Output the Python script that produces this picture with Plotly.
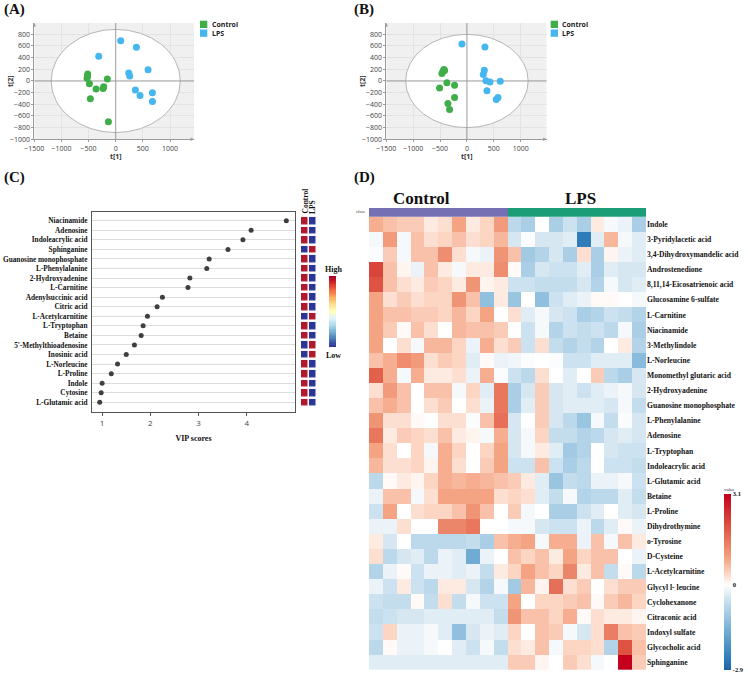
import plotly.graph_objects as go
import numpy as np

W, H = 748, 682
def fx(p): return p / W
def fy(p): return 1 - p / H

# ---------------- Panel A / B data (PCA score plots) ----------------
a_ctrl_x = [-516, -528, -485, -362, -221, -233, -154, -467, -135, -520]
a_ctrl_y = [120, 46, -46, -137, -97, -131, 34, -303, -697, 80]
a_lps_x = [92, 381, -313, 596, 240, 258, 362, 448, 676, 676]
a_lps_y = [691, 577, 423, 194, 137, 86, -154, -251, -200, -354]
a_ellipse = (1190, 885)

b_ctrl_x = [-428, -447, -465, -372, -230, -509, -230, -354, -323, -415]
b_ctrl_y = [197, 162, 127, -29, -75, -121, -283, -387, -491, 179]
b_lps_x = [-93, 335, 323, 304, 354, 428, 620, 372, 577, 546]
b_lps_y = [636, 584, 185, 110, 6, -17, -6, -168, -283, -318]
b_ellipse = (1140, 800)

pca_xticks = [-1500, -1000, -500, 0, 500, 1000]
pca_yticks = [-1000, -800, -600, -400, -200, 0, 200, 400, 600, 800]

# ---------------- Panel C data (VIP scores) ----------------
vip_names = ["Niacinamide", "Adenosine", "Indoleacrylic acid", "Sphinganine",
             "Guanosine monophosphate", "L-Phenylalanine", "2-Hydroxyadenine",
             "L-Carnitine", "Adenylsuccinic acid", "Citric acid", "L-Acetylcarnitine",
             "L-Tryptophan", "Betaine", "5'-Methylthioadenosine", "Inosinic acid",
             "L-Norleucine", "L-Proline", "Indole", "Cytosine", "L-Glutamic acid"]
vip_scores = [4.82, 4.09, 3.92, 3.61, 3.22, 3.17, 2.82, 2.78, 2.25, 2.14,
              1.94, 1.85, 1.81, 1.67, 1.50, 1.32, 1.19, 1.00, 0.98, 0.95]
# 1 = high, 0 = low
vip_control_level = [1, 1, 1, 0, 1, 1, 1, 1, 1, 1, 0, 1, 1, 0, 0, 1, 1, 1, 1, 1]
vip_lps_level = [0, 0, 0, 1, 0, 0, 0, 0, 0, 0, 1, 0, 0, 1, 1, 0, 0, 0, 0, 0]
vip_xticks = [1, 2, 3, 4]

# ---------------- Panel D data (heatmap) ----------------
hm_rows = ["Indole", "3-Pyridylacetic acid", "3,4-Dihydroxymandelic acid", "Androstenedione",
           "8,11,14-Eicosatrienoic acid", "Glucosamine 6-sulfate", "L-Carnitine", "Niacinamide",
           "3-Methylindole", "L-Norleucine", "Monomethyl glutaric acid", "2-Hydroxyadenine",
           "Guanosine monophosphate", "L-Phenylalanine", "Adenosine", "L-Tryptophan",
           "Indoleacrylic acid", "L-Glutamic acid", "Betaine", "L-Proline", "Dihydrothymine",
           "o-Tyrosine", "D-Cysteine", "L-Acetylcarnitine", "Glycyl l- leucine", "Cyclohexanone",
           "Citraconic acid", "Indoxyl sulfate", "Glycocholic acid", "Sphinganine"]
hm_samples = ["C1", "C2", "C3", "C4", "C5", "C6", "C7", "C8", "C9", "C10",
              "L1", "L2", "L3", "L4", "L5", "L6", "L7", "L8", "L9", "L10"]
hm_class = [0, 0, 0, 0, 0, 0, 0, 0, 0, 0, 1, 1, 1, 1, 1, 1, 1, 1, 1, 1]
hm_values = [
    [0.8, 0.6, 0.5, 0.5, 0.2, 0.3, 0.9, 0.2, 0.4, 1.0, -0.7, -0.9, 0.0, -0.9, -0.5, -0.9, 0.2, -0.1, -0.2, -0.9],
    [-0.1, 1.0, -0.1, 0.6, 0.3, 0.4, 0.6, 0.3, 0.4, 0.7, -0.4, -0.05, -0.4, -0.4, -0.3, -2.5, -0.3, 0.7, -0.1, -0.3],
    [-0.05, 0.5, -0.1, 0.6, 0.6, 1.2, 0.3, -0.1, -0.2, 1.1, 0.6, -1.0, -0.8, -0.4, -0.9, 0.3, -0.9, 0.1, -0.2, -0.3],
    [2.2, 0.6, 0.1, -0.2, 0.6, 0.2, -0.1, 0.2, 0.2, 1.2, 0.05, -0.9, -0.4, -0.5, -0.5, -0.3, -0.9, -0.3, -0.4, -0.4],
    [2.0, 0.6, 0.3, 0.2, 0.5, 0.4, 0.2, 1.1, 0.1, 0.2, -0.5, -0.5, -0.6, -0.6, -0.6, -0.4, -0.8, -0.1, -0.4, -0.3],
    [0.9, 0.3, 0.5, 0.3, 0.4, 0.4, 1.1, 0.6, -1.2, 0.2, -1.1, 0.0, -1.2, -0.5, -0.3, -0.2, 0.05, 0.05, 0.0, -0.1],
    [0.9, 0.6, 0.6, 0.5, 0.5, 0.4, 0.7, 0.4, 0.9, 0.0, 0.3, -0.3, -0.1, -0.4, -0.5, -0.9, -0.8, -0.5, -0.6, -0.8],
    [0.9, 0.5, 0.05, 0.6, 0.3, 0.0, 0.7, 0.6, 0.6, 0.5, 0.0, -0.5, -0.1, -0.8, -0.5, -0.6, -0.5, -0.7, -0.1, -0.9],
    [0.9, 0.0, 0.3, -0.1, 0.7, 0.7, 0.4, -0.2, 0.8, 0.3, 0.5, -0.5, 0.3, -0.6, -0.8, -0.6, -0.8, 0.0, 0.2, -0.8],
    [0.6, 0.8, 1.2, 1.0, 0.3, 0.5, 0.4, -0.3, 0.05, -0.2, -0.15, -0.05, 0.0, -0.05, -0.5, -0.5, -0.3, -0.3, -0.3, -1.3],
    [1.8, 0.8, -0.1, 0.8, 0.2, 0.2, 0.3, -0.2, 0.8, -0.05, -0.5, -0.7, 0.3, 0.0, -0.3, 0.0, 0.5, -0.7, -0.9, -0.4],
    [0.3, 1.0, 0.6, 0.0, 0.6, 0.6, -0.1, 0.4, -0.3, 1.5, -0.9, -0.4, 0.5, -0.4, -0.3, -0.5, -0.3, -0.2, -0.1, -0.4],
    [0.6, 0.8, 0.6, 0.0, 0.3, 0.5, 0.0, 0.3, -0.2, 1.5, -0.9, -0.3, 0.5, -0.4, -0.3, -0.3, -0.3, -0.4, -0.1, -0.6],
    [1.1, 0.3, 0.3, 0.05, 0.0, 0.3, 0.3, -0.05, 0.6, 1.6, -0.4, 0.0, 0.5, -0.4, -0.7, -1.1, -0.1, -0.6, -0.05, -0.4],
    [1.5, 0.2, 0.5, 0.4, 0.3, 0.6, 0.2, 0.1, -0.1, 0.8, -0.4, -0.1, 0.4, -0.6, -0.6, -0.8, -0.7, -0.4, -0.3, -0.4],
    [0.9, 0.3, 0.0, 0.4, -0.1, 0.8, 0.4, 0.0, 0.4, 0.9, -0.4, -0.1, 0.2, -0.3, -1.0, -0.8, 0.0, -0.4, -0.5, -0.5],
    [0.7, 0.3, 0.3, 0.4, 0.1, 0.8, 0.3, 0.0, 0.5, 0.9, -0.5, -0.5, 0.6, -0.5, -0.9, -0.7, 0.0, -0.5, -0.5, -0.6],
    [-0.7, 0.05, 0.2, 0.1, 0.4, 0.8, 0.7, 0.8, 0.7, 0.6, 0.5, 0.2, -0.3, -1.1, -0.6, -0.7, -0.2, -0.2, -0.1, -0.5],
    [-0.2, 0.6, 0.6, -0.1, 0.3, 0.9, 0.9, 0.9, 0.9, 0.3, 0.4, 0.3, -0.3, -0.6, -0.1, -0.8, -0.7, -0.7, -0.3, -0.6],
    [-0.5, 0.9, 0.0, 0.3, 0.4, 0.4, 0.6, 1.1, 0.6, 0.0, 0.5, -0.1, 0.0, -0.9, -0.9, -0.5, -0.3, 0.0, -0.3, -0.4],
    [-0.2, -0.2, 0.3, 0.0, 0.0, 1.3, 1.3, 1.5, 0.0, 0.0, -0.1, -0.1, -0.4, -0.5, -0.5, -0.2, -0.7, -0.3, 0.05, -0.2],
    [0.2, -0.4, 0.0, -0.7, -0.7, -0.7, -0.7, -0.6, -0.9, 0.6, 0.8, 0.9, -0.1, 0.8, 0.8, -0.2, 0.6, -0.1, 0.6, 0.2],
    [0.3, -0.7, -0.4, -0.3, -0.7, -0.2, -0.3, -1.6, -0.2, 0.0, 0.6, 0.4, 0.6, 0.2, 0.9, 0.4, 0.6, 0.6, 0.0, -0.2],
    [-0.8, -0.2, 0.05, -0.5, -0.2, -0.2, -0.3, -0.2, -0.6, 0.2, 0.4, 0.9, 0.6, 0.4, 1.3, 0.2, 0.6, -0.6, 0.05, -0.7],
    [-0.2, -0.5, 0.2, -0.5, -0.7, 0.2, 0.2, -0.4, -0.8, -0.1, -1.0, 0.7, 0.1, 1.6, 0.3, 0.5, 0.0, 0.3, 0.5, 0.5],
    [-0.5, -0.6, -0.6, 0.05, -0.6, 0.3, -0.6, -0.1, -0.5, -0.5, 0.9, 0.0, 0.4, 0.4, 0.5, 0.6, 0.05, 0.5, 0.7, 0.4],
    [-0.6, -0.5, -0.4, -0.4, -0.3, -0.3, -0.3, -0.3, -0.3, -0.6, 1.1, 0.6, 0.6, 0.4, 0.8, 0.05, 0.3, 0.2, 0.2, 0.1],
    [-0.5, 0.4, -0.2, -0.2, -0.1, -0.3, -1.2, -0.4, -0.2, -0.3, 0.4, 0.0, 0.6, 0.5, -0.1, -0.4, 0.3, 1.4, 0.6, 0.5],
    [-0.7, 0.05, -0.2, -0.2, -0.1, 0.0, -0.3, -0.5, -0.1, -0.6, 0.3, 0.2, 0.6, -0.1, 0.4, 0.4, 0.3, -0.8, 2.0, 0.6],
    [-0.3, -0.3, -0.3, -0.3, -0.3, -0.3, -0.3, -0.3, -0.3, -0.3, 0.5, 0.5, 0.1, 0.0, 0.5, 0.3, -0.1, 0.0, 3.1, 0.5],
]
hm_min, hm_max = -2.9, 3.1

GREEN = "#3fae49"
BLUE = "#45b6f0"
SERIF = "Liberation Serif"
SANS = "Open Sans"

fig = go.Figure()

# ---- Panel A & B scatter ----
for xa, ya, cx, cy, lx, ly in [("x", "y", a_ctrl_x, a_ctrl_y, a_lps_x, a_lps_y),
                               ("x2", "y2", b_ctrl_x, b_ctrl_y, b_lps_x, b_lps_y)]:
    fig.add_trace(go.Scatter(x=cx, y=cy, mode="markers", xaxis=xa, yaxis=ya,
                             marker=dict(color=GREEN, size=7), showlegend=False))
    fig.add_trace(go.Scatter(x=lx, y=ly, mode="markers", xaxis=xa, yaxis=ya,
                             marker=dict(color=BLUE, size=7), showlegend=False))

# ---- Panel C dots ----
vip_idx = list(range(len(vip_names)))
fig.add_trace(go.Scatter(x=vip_scores, y=vip_idx, mode="markers", xaxis="x3", yaxis="y3",
                         marker=dict(color="#3f3f3f", size=5), showlegend=False))
# ---- Panel C side squares ----
sq_z = [[c, l] for c, l in zip(vip_control_level, vip_lps_level)]
fig.add_trace(go.Heatmap(z=sq_z, x=[0, 1], y=vip_idx, xaxis="x4", yaxis="y4",
                         colorscale=[[0, "#2b3595"], [0.5, "#2b3595"], [0.5, "#b0192d"], [1, "#b0192d"]],
                         zmin=0, zmax=1, showscale=False, xgap=1.5, ygap=2.5))
# ---- Panel C gradient legend ----
grad = np.linspace(0, 1, 60).reshape(-1, 1)
fig.add_trace(go.Heatmap(z=grad, xaxis="x5", yaxis="y5", colorscale="RdYlBu", reversescale=True,
                         showscale=False))

# ---- Panel D heatmap ----
hm_cs = [[0, "#1f63a8"], [0.08, "#3380bd"], [0.25, "#7fb6d9"], [0.41, "#d2e5f1"],
         [0.4833, "#ffffff"], [0.55, "#fcd5c3"], [0.635, "#f4a282"], [0.8, "#e05a45"], [1, "#c4001c"]]
fig.add_trace(go.Heatmap(z=hm_values, x=hm_samples, y=hm_rows, xaxis="x6", yaxis="y6",
                         colorscale=hm_cs, zmin=hm_min, zmax=hm_max,
                         colorbar=dict(x=fx(724), xanchor="left", y=fy(577), yanchor="middle",
                                       xpad=0, ypad=0,
                                       len=186, lenmode="pixels", thickness=7, outlinewidth=0,
                                       tickvals=[-2.9, 0, 3.1], ticktext=["-2.9", "0", "3.1"],
                                       ticks="", ticklabelposition="outside",
                                       tickfont=dict(family=SERIF, size=6.5, color="#111", weight="bold"),
                                       title=dict(text="value", side="top",
                                                  font=dict(family=SERIF, size=5, color="#333")))))
fig.add_trace(go.Heatmap(z=[hm_class], x=hm_samples, y=["class"], xaxis="x7", yaxis="y7",
                         colorscale=[[0, "#7570b3"], [0.5, "#7570b3"], [0.5, "#1b9e77"], [1, "#1b9e77"]],
                         zmin=0, zmax=1, showscale=False))

tickf = dict(family=SANS, size=7, color="#404040")
pca_common = dict(showgrid=True, gridcolor="#e3e3e3", zeroline=False, showline=True,
                  linecolor="#9a9a9a", linewidth=1, ticks="outside", ticklen=2, tickcolor="#9a9a9a",
                  tickfont=tickf)

a_x_range = [-1500, 1442]
b_x_range = [-1500, 1484]
ab_y_range = [-1000, 994]

layout = dict(
    width=W, height=H, margin=dict(l=0, r=0, t=0, b=0, autoexpand=False),
    paper_bgcolor="white", plot_bgcolor="rgba(0,0,0,0)", showlegend=False,
    xaxis=dict(domain=[fx(34.3), fx(194)], range=a_x_range, tickvals=pca_xticks, anchor="y", **pca_common),
    yaxis=dict(domain=[fy(139.3), fy(23)], range=ab_y_range, tickvals=pca_yticks, anchor="x", **pca_common),
    xaxis2=dict(domain=[fx(386.3), fx(546.7)], range=b_x_range, tickvals=pca_xticks, anchor="y2", **pca_common),
    yaxis2=dict(domain=[fy(139.3), fy(23)], range=ab_y_range, tickvals=pca_yticks, anchor="x2", **pca_common),
    xaxis3=dict(domain=[fx(92), fx(295)], range=[0.79, 5.0], tickvals=vip_xticks, anchor="y3",
                showgrid=False, zeroline=False, showline=True, mirror=True, linecolor="#555",
                ticks="outside", ticklen=3, tickcolor="#555",
                tickfont=dict(family=SANS, size=8, color="#444"),
                title=dict(text="VIP scores", font=dict(family=SERIF, size=8, color="#111", weight="bold"),
                           standoff=8)),
    yaxis3=dict(domain=[fy(412), fy(212)], range=[20.01, -0.91], tickvals=vip_idx, ticktext=vip_names,
                anchor="x3", showgrid=True, gridcolor="#dcdcdc", zeroline=False, showline=True, mirror=True,
                linecolor="#555", ticks="", ticklabelstandoff=2,
                tickfont=dict(family=SERIF, size=7.3, color="#111", weight="bold")),
    xaxis4=dict(domain=[fx(301), fx(316.5)], range=[-0.5, 1.5], anchor="y4", visible=False),
    yaxis4=dict(domain=[fy(412), fy(212)], range=[20.01, -0.91], anchor="x4", visible=False),
    xaxis5=dict(domain=[fx(329), fx(336)], anchor="y5", visible=False),
    yaxis5=dict(domain=[fy(347), fy(276)], anchor="x5", visible=False),
    xaxis6=dict(domain=[fx(369), fx(646)], anchor="y6", visible=False),
    yaxis6=dict(domain=[fy(670), fy(216.7)], anchor="x6", autorange="reversed", side="right",
                showgrid=False, zeroline=False, showline=False, ticks="",
                tickfont=dict(family=SERIF, size=7.6, color="#111", weight="bold")),
    xaxis7=dict(domain=[fx(369), fx(646)], anchor="y7", visible=False),
    yaxis7=dict(domain=[fy(216.7), fy(208)], anchor="x7", visible=False),
)
fig.update_layout(**layout)

# background, ellipses and zero lines for A/B
shapes = []
for xr, yr, xrange_, (rx, ry) in [("x", "y", a_x_range, a_ellipse), ("x2", "y2", b_x_range, b_ellipse)]:
    shapes.append(dict(type="rect", xref=xr, yref=yr, x0=xrange_[0], x1=xrange_[1],
                       y0=ab_y_range[0], y1=ab_y_range[1], fillcolor="#f0f0f0",
                       line=dict(width=0), layer="below"))
    shapes.append(dict(type="circle", xref=xr, yref=yr, x0=-rx, x1=rx, y0=-ry, y1=ry,
                       fillcolor="white", line=dict(color="#b5b5b5", width=1), layer="between"))
    shapes.append(dict(type="line", xref=xr, yref=yr, x0=xrange_[0], x1=xrange_[1], y0=0, y1=0,
                       line=dict(color="#9a9a9a", width=1), layer="between"))
    shapes.append(dict(type="line", xref=xr, yref=yr, x0=0, x1=0, y0=ab_y_range[0], y1=ab_y_range[1],
                       line=dict(color="#9a9a9a", width=1), layer="between"))
# legend swatches
for x0 in (200, 550.7):
    for y0, col in ((20.7, GREEN), (29.5, BLUE)):
        shapes.append(dict(type="rect", xref="paper", yref="paper", x0=fx(x0), x1=fx(x0 + 7.3),
                           y0=fy(y0 + 7.3), y1=fy(y0), fillcolor=col, line=dict(width=0)))
fig.update_layout(shapes=shapes)

ann = []
def A(text, x, y, size, family=SERIF, weight="bold", xanchor="left", yanchor="middle", angle=0, color="#111"):
    ann.append(dict(text=text, x=fx(x), y=fy(y), xref="paper", yref="paper", showarrow=False,
                    xanchor=xanchor, yanchor=yanchor, textangle=angle,
                    font=dict(family=family, size=size, color=color, weight=weight)))

A("(A)", 2, 10, 15)
A("(B)", 352, 10, 15)
A("(C)", 2, 177, 15)
A("(D)", 352, 177, 15)
for x0 in (209.5, 560):
    A("Control", x0, 24.3, 7, family=SANS, color="#222")
    A("LPS", x0, 33.2, 7, family=SANS, color="#222")
A("t[1]", 116, 156, 7, family=SANS, xanchor="center", color="#333")
A("t[2]", 10, 81, 7, family=SANS, xanchor="center", angle=-90, color="#333")
A("t[1]", 467, 156, 7, family=SANS, xanchor="center", color="#333")
A("t[2]", 362, 81, 7, family=SANS, xanchor="center", angle=-90, color="#333")
A("Control", 305, 216, 7.5, xanchor="center", yanchor="bottom", angle=-90)
A("LPS", 313, 216, 7.5, xanchor="center", yanchor="bottom", angle=-90)
A("High", 333, 269, 8, xanchor="center")
A("Low", 333, 355, 8, xanchor="center")
A("Control", 421, 199, 17, xanchor="center")
A("LPS", 580, 199, 17, xanchor="center")
A("class", 367, 212, 4.5, weight="normal", xanchor="right", color="#444")

# axis arrow heads for A/B
for xr, yr, xmax in [("x", "y", a_x_range[1]), ("x2", "y2", b_x_range[1])]:
    ann.append(dict(x=xmax, y=-1000, ax=xmax - 80, ay=-1000, xref=xr, yref=yr, axref=xr, ayref=yr,
                    showarrow=True, arrowhead=2, arrowsize=0.7, arrowwidth=1, arrowcolor="#9a9a9a", text=""))
    ann.append(dict(x=-1500, y=ab_y_range[1], ax=-1500, ay=ab_y_range[1] - 80, xref=xr, yref=yr,
                    axref=xr, ayref=yr, showarrow=True, arrowhead=2, arrowsize=0.7, arrowwidth=1,
                    arrowcolor="#9a9a9a", text=""))
fig.update_layout(annotations=ann)

fig.write_html("out.html")
